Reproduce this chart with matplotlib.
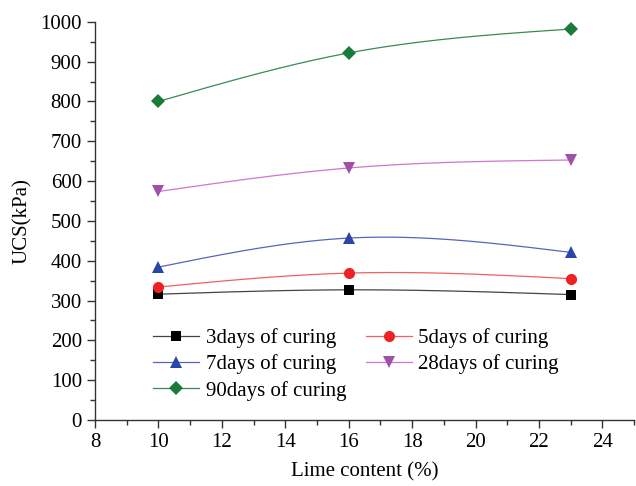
import numpy as np
import matplotlib
matplotlib.use("Agg")
import matplotlib.pyplot as plt
from matplotlib.lines import Line2D
from matplotlib.ticker import MultipleLocator

plt.rcParams['font.family'] = ['Liberation Serif', 'DejaVu Serif']

lime = [10, 16, 23]
d3 = [316, 327, 315]
d5 = [334, 369, 355]
d7 = [384, 457, 421]
d28 = [574, 633, 653]
d90 = [800, 922, 982]
labels = ["3days of curing", "5days of curing", "7days of curing",
          "28days of curing", "90days of curing"]


def natural_spline(x, y, n=200):
    x = np.asarray(x, float); y = np.asarray(y, float)
    h = np.diff(x)
    d = np.diff(y) / h
    m = len(x)
    A = np.zeros((m, m)); b = np.zeros(m)
    A[0, 0] = 1; A[-1, -1] = 1
    for i in range(1, m - 1):
        A[i, i - 1] = h[i - 1]; A[i, i] = 2 * (h[i - 1] + h[i]); A[i, i + 1] = h[i]
        b[i] = 6 * (d[i] - d[i - 1])
    M = np.linalg.solve(A, b)
    xs, ys = [], []
    for i in range(m - 1):
        t = np.linspace(x[i], x[i + 1], n)
        s = (M[i] * (x[i + 1] - t) ** 3 / (6 * h[i]) + M[i + 1] * (t - x[i]) ** 3 / (6 * h[i])
             + (y[i] / h[i] - M[i] * h[i] / 6) * (x[i + 1] - t)
             + (y[i + 1] / h[i] - M[i + 1] * h[i] / 6) * (t - x[i]))
        xs.append(t); ys.append(s)
    return np.concatenate(xs), np.concatenate(ys)


fig = plt.figure(figsize=(6.36, 4.86), dpi=100)
ax = fig.add_axes([0.1494, 0.1358, 0.8476, 0.8192])

series = [d3, d5, d7, d28, d90]
line_colors = ['#444444', '#f06060', '#5566bb', '#cc77cc', '#3a8a55']
mark_colors = ['#000000', '#ee2222', '#2a44a8', '#a050a8', '#1a7a3a']
markers = ['s', 'o', '^', 'v', 'D']
msizes = [7, 8, 8, 8, 7]

handles = []
for ys, lc, mc, mk, ms, lab in zip(series, line_colors, mark_colors, markers, msizes, labels):
    sx, sy = natural_spline(lime, ys)
    ax.plot(sx, sy, color=lc, lw=0.9, zorder=2)
    ax.plot(lime, ys, linestyle='none', marker=mk, color=mc, markersize=ms,
            markeredgewidth=0, zorder=3)
    handles.append(Line2D([], [], color=lc, lw=0.9, marker=mk, markerfacecolor=mc,
                          markeredgewidth=0, markersize=ms, label=lab))

ax.set_xlim(8, 25)
ax.set_ylim(0, 1000)
ax.xaxis.set_major_locator(MultipleLocator(2))
ax.xaxis.set_minor_locator(MultipleLocator(1))
ax.yaxis.set_major_locator(MultipleLocator(100))
ax.yaxis.set_minor_locator(MultipleLocator(50))
ax.spines['top'].set_visible(False)
ax.spines['right'].set_visible(False)
for sp in ['left', 'bottom']:
    ax.spines[sp].set_linewidth(1.0)
    ax.spines[sp].set_color('#333333')
ax.tick_params(which='major', direction='out', length=6, width=1.0, labelsize=15, colors='#333333', labelcolor='black')
ax.tick_params(which='minor', direction='out', length=3.5, width=1.0, colors='#333333')
ax.set_xticks([8, 10, 12, 14, 16, 18, 20, 22, 24])

ax.set_xlabel("Lime content (%)", fontsize=15, labelpad=7)
ax.set_ylabel("UCS(kPa)", fontsize=15, labelpad=6)

order = [0, 2, 4, 1, 3]
leg = ax.legend([handles[i] for i in order], [labels[i] for i in order], ncol=2,
                frameon=False, fontsize=15, loc='lower left', bbox_to_anchor=(0.093, 0.028),
                handlelength=2.2, handletextpad=0.3, columnspacing=0.95, labelspacing=0.3,
                borderaxespad=0)

fig.savefig("out.png", dpi=100)
